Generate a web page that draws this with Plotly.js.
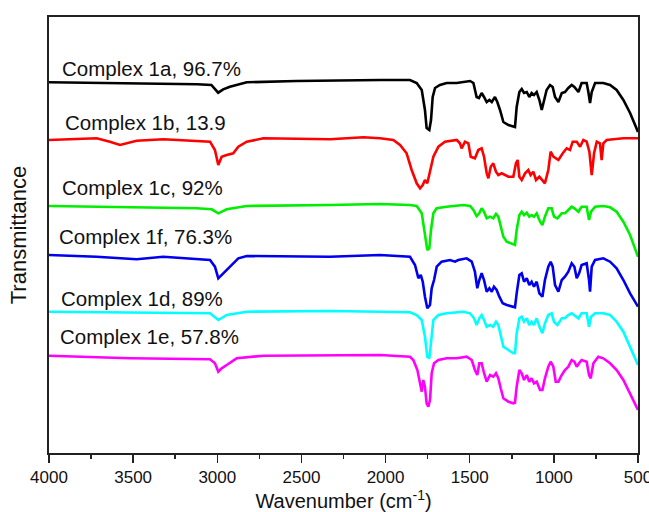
<!DOCTYPE html>
<html>
<head>
<meta charset="utf-8">
<script src="https://cdn.plot.ly/plotly-3.0.1.min.js"></script>
<style>html,body{margin:0;padding:0;background:#fff;overflow:hidden;}#chart{width:649px;height:512px;}</style>
</head>
<body>
<div id="chart"></div>
<script>
// Series labels
const labels = ["Complex 1a, 96.7%", "Complex 1b, 13.9", "Complex 1c, 92%", "Complex 1f, 76.3%", "Complex 1d, 89%", "Complex 1e, 57.8%"];
const colors = ["#000000", "#ff0000", "#00ee00", "#0000ee", "#00ffff", "#ff00ff"];

// Wavenumbers (cm-1) and transmittance (arbitrary units, offset stacked)
const wn1a = [4000,3500,3120,3035,2995,2965,2925,2825,2530,2030,1855,1815,1785,1766,1756,1740,1730,1720,1706,1677,1637,1577,1538,1498,1478,1459,1445,1429,1415,1399,1383,1369,1350,1336,1320,1300,1270,1241,1231,1221,1205,1191,1177,1161,1146,1132,1118,1102,1086,1072,1062,1043,1023,1007,993,973,953,934,914,894,878,854,835,805,795,785,775,755,706,666,627,587,547,500];
const t1a = [370.7,369.7,368.7,368,360.3,363.7,366.3,370.7,372,373,373,370,363,343,325,323,333,356,365,368,370,370,371,372,370,356,355,360,356,351,353,351,356,351,343,331,328,326,326,346,361,364,360,361,356,360,358,361,353,343,350,363,368,366,356,351,360,361,365,368,366,361,370,370,361,350,361,370,370,368,363,353,340,321];

const wn1b = [4000,3717,3638,3578,3479,3321,3043,3014,2994,2974,2944,2905,2875,2825,2726,2330,2132,2033,1954,1914,1875,1845,1815,1795,1779,1766,1752,1736,1716,1686,1647,1577,1558,1548,1528,1508,1494,1469,1449,1429,1415,1399,1389,1375,1360,1344,1330,1310,1290,1270,1241,1225,1215,1205,1191,1171,1152,1138,1122,1106,1086,1072,1053,1033,1019,1003,973,947,924,904,888,864,844,825,805,789,775,761,745,726,716,706,686,646,587,500];
const t1b = [313,314.7,311.3,308,312.3,313.7,311.3,303,288,296.3,298,299.7,306.3,311.3,314.7,313.7,315.7,314.7,313,308,299.7,283,269.7,264.7,268,273,269.7,283,296.3,306.3,311.3,313,309.7,304.7,311.3,309.7,296.3,294.7,303,304.7,296.3,279.7,274.7,286.3,289.7,281.3,278,279.7,278,276.3,276.3,289.7,293,276.3,273,279.7,283,278,281.3,273,276.3,273,269.7,283,301.3,296.3,293,299.7,304.7,303,311.3,311.3,306.3,313,311.3,301.3,278,299.7,311.3,309.7,293,309.7,313,313.7,314.7,314.7];

const wn1c = [4000,3122,3033,2994,2944,2825,2330,2033,1855,1815,1785,1766,1752,1740,1730,1716,1696,1637,1538,1498,1478,1459,1443,1429,1415,1399,1379,1360,1344,1330,1316,1300,1280,1251,1231,1221,1205,1191,1177,1161,1146,1132,1118,1102,1082,1068,1053,1033,1013,999,979,953,934,914,894,878,854,835,805,791,779,755,706,666,627,587,547,500];
const t1c = [247,244.7,243.7,239.7,243.7,247,248,249,248,247,239.7,219.7,203,204.7,223,239.7,244.7,246.3,248,247,243,237,239.7,244.7,241.3,234.7,236.3,234.7,239,236.3,228,216.3,211.3,209.7,208,223,238,241.3,238,240.3,236.3,238,236.3,239.7,231.3,228,236.3,244.7,244.7,236.3,234.7,239.7,239.7,243,246.3,244.7,241.3,246.3,246.3,233,241.3,246.3,247,245.7,241.3,231.3,218,196.3];

const wn1f = [4000,3717,3479,3321,3043,3014,2994,2974,2944,2905,2875,2825,2330,2033,1855,1825,1805,1791,1779,1766,1752,1736,1726,1712,1696,1667,1617,1587,1568,1518,1488,1469,1455,1443,1429,1415,1399,1383,1369,1356,1340,1324,1304,1280,1241,1231,1221,1205,1191,1177,1161,1146,1132,1118,1102,1086,1068,1053,1033,1019,1007,993,973,953,934,914,894,878,864,850,835,805,791,785,775,755,706,666,627,587,547,500];
const t1f = [198,196.3,193.7,196.3,193,186.3,174.7,178,183,189.7,194.7,197,196.3,198,196.3,188,174.7,178,171.3,156.3,144.7,148,164.7,173,186.3,191.3,193,191.3,193,194.7,191.3,181.3,164.7,173,179.7,173,161.3,164.7,161.3,166.3,163,156.3,149.7,148,146.3,145.7,159.7,178,179.7,171.3,174.7,168,171.3,166.3,171.3,159.7,156.3,173,186.3,191.3,186.3,168,161.3,173,176.3,181.3,189.7,186.3,174.7,179.7,188,189.7,173,161.3,186.3,193,194.7,191.3,184.7,173,159.7,146.3];

const wn1d = [4000,3321,3043,2994,2944,2825,2330,2033,1855,1815,1785,1766,1752,1740,1730,1716,1686,1637,1538,1498,1474,1459,1443,1429,1415,1399,1379,1360,1344,1330,1316,1300,1270,1241,1231,1221,1205,1191,1177,1161,1146,1132,1118,1102,1082,1068,1053,1033,1013,999,979,953,934,914,894,878,854,835,805,791,779,755,706,666,627,587,547,500];
const t1d = [141.3,140.3,139.7,133,138,141.3,142,141.3,140.7,138,133,116.3,96.3,94.7,113,133,138,139.7,141.3,139.7,134.7,128,134.7,138,133,126.3,128,126.3,131.3,128,118,106.3,103,99.7,99.7,119.7,134.7,136.3,131.3,134.7,128,131.3,128,134.7,124.7,119.7,129.7,138,139.7,131.3,128,134.7,134.7,138,139.7,138,134.7,139.7,139.7,126.3,136.3,139.7,139.7,138,131.3,121.3,106.3,88];

const wn1e = [4000,3519,3043,3014,2994,2974,2944,2885,2726,2330,2033,1855,1835,1811,1795,1785,1776,1766,1756,1746,1736,1726,1712,1686,1637,1577,1518,1488,1469,1455,1443,1429,1415,1399,1379,1360,1344,1330,1316,1300,1270,1241,1231,1221,1205,1191,1177,1161,1146,1132,1118,1102,1082,1068,1053,1033,1019,1003,989,973,953,934,914,894,878,864,850,835,805,791,781,765,736,706,666,627,587,547,500];
const t1e = [97.3,94.7,93.7,89.7,81.3,84.7,88,94.7,97.3,98,98,96.3,93,83,69.7,61.3,73,66.3,49.7,46.3,53,79.7,89.7,93,94.7,94.7,96.3,93,83,78,89.7,89.7,80,71.3,78,76.3,79.7,74.7,64.7,54.7,51.3,49.7,50.3,66.3,83,79.7,73,78,71.3,74.7,69.7,71.3,63,63,74.7,86.3,91.3,86.3,71.3,71.3,78,83,86.3,93,91.3,86.3,89.7,93,91.3,78,74.7,89.7,96.3,94.7,89.7,83,73,59.7,43];

const xs = [wn1a, wn1b, wn1c, wn1f, wn1d, wn1e];
const ys = [t1a, t1b, t1c, t1f, t1d, t1e];

// Tick values
const xTicks = [4000, 3500, 3000, 2500, 2000, 1500, 1000, 500];
const xTickText = ["4000", "3500", "3000", "2500", "2000", "1500", "1000", "500"];

// label anchor positions (styling, in data coordinates)
const labelPos = [[3935, 385], [3915, 331], [3935, 266], [3952, 217], [3942, 154.7], [3947, 116.3]];

const traces = xs.map((x, i) => ({
  x: x, y: ys[i], type: 'scatter', mode: 'lines',
  line: {color: colors[i], width: 2.6}, name: labels[i], showlegend: false, hoverinfo: 'skip'
}));

const fam = '"Liberation Sans", Arial, sans-serif';

const layout = {
  width: 649, height: 512,
  margin: {l: 49, r: 11, t: 17, b: 59},
  paper_bgcolor: '#fff', plot_bgcolor: '#fff',
  showlegend: false,
  xaxis: {
    range: [4000, 500], autorange: false,
    tickvals: xTicks, ticktext: xTickText,
    ticks: 'outside', ticklen: 8, tickwidth: 1.5, tickcolor: '#222',
    ticklabeloverflow: 'allow',
    minor: {dtick: 250, tick0: 0, ticks: 'outside', ticklen: 4, tickwidth: 1.5, tickcolor: '#222', showgrid: false},
    showline: true, linecolor: '#222', linewidth: 2, mirror: true,
    showgrid: false, zeroline: false,
    tickfont: {family: fam, size: 17, color: '#111'},
    title: {text: 'Wavenumber (cm<sup>-1</sup>)', font: {family: fam, size: 20, color: '#111'}, standoff: 6}
  },
  yaxis: {
    range: [0, 436], autorange: false,
    showticklabels: false, ticks: '',
    showline: true, linecolor: '#222', linewidth: 2, mirror: true,
    showgrid: false, zeroline: false,
    title: {text: 'Transmittance', font: {family: fam, size: 22, color: '#111'}, standoff: 14}
  },
  annotations: labels.map((t, i) => ({
    text: t, x: labelPos[i][0], y: labelPos[i][1], xref: 'x', yref: 'y',
    xanchor: 'left', yanchor: 'middle', showarrow: false,
    font: {family: fam, size: 20.5, color: '#111'}
  }))
};

Plotly.newPlot('chart', traces, layout, {displayModeBar: false, staticPlot: true});
</script>
</body>
</html>
